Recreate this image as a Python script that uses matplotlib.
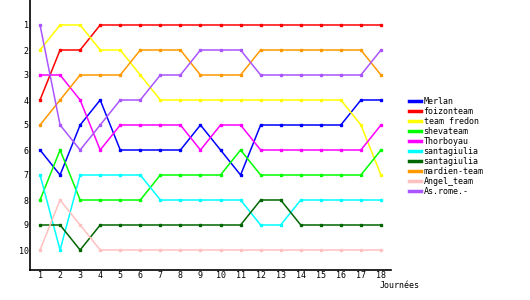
import matplotlib
matplotlib.use("Agg")
import matplotlib.pyplot as plt
from matplotlib.lines import Line2D

# classement par journée
journees = list(range(1, 19))
teams = ['Merlan', 'foizonteam', 'team fredon', 'shevateam', 'Thorboyau',
         'santagiulia', 'santagiulia', 'mardien-team', 'Angel_team', 'As.rome.-']
colors = ['#0000ff', '#ff0000', '#ffff00', '#00ff00', '#ff00ff',
          '#00ffff', '#006600', '#ff9900', '#ffc0c0', '#aa55ff']

merlan      = [6, 7, 5, 4, 6, 6, 6, 6, 5, 6, 7, 5, 5, 5, 5, 5, 4, 4]
foizonteam  = [4, 2, 2, 1, 1, 1, 1, 1, 1, 1, 1, 1, 1, 1, 1, 1, 1, 1]
team_fredon = [2, 1, 1, 2, 2, 3, 4, 4, 4, 4, 4, 4, 4, 4, 4, 4, 5, 7]
shevateam   = [8, 6, 8, 8, 8, 8, 7, 7, 7, 7, 6, 7, 7, 7, 7, 7, 7, 6]
thorboyau   = [3, 3, 4, 6, 5, 5, 5, 5, 6, 5, 5, 6, 6, 6, 6, 6, 6, 5]
santagiulia = [7, 10, 7, 7, 7, 7, 8, 8, 8, 8, 8, 9, 9, 8, 8, 8, 8, 8]
santagiulia2 = [9, 9, 10, 9, 9, 9, 9, 9, 9, 9, 9, 8, 8, 9, 9, 9, 9, 9]
mardien     = [5, 4, 3, 3, 3, 2, 2, 2, 3, 3, 3, 2, 2, 2, 2, 2, 2, 3]
angel       = [10, 8, 9, 10, 10, 10, 10, 10, 10, 10, 10, 10, 10, 10, 10, 10, 10, 10]
asrome      = [1, 5, 6, 5, 4, 4, 3, 3, 2, 2, 2, 3, 3, 3, 3, 3, 3, 2]

series = [merlan, foizonteam, team_fredon, shevateam, thorboyau,
          santagiulia, santagiulia2, mardien, angel, asrome]

W, H = 530, 300
fig = plt.figure(figsize=(W / 100, H / 100), dpi=100)
ax = fig.add_axes([30 / W, 30 / H, 361 / W, 270 / H])

for s, c in zip(series, colors):
    ax.plot(journees, s, color=c, lw=1.1, marker='s', ms=1.8, mec=c, mfc=c)

ax.set_xlim(0.5, 18.5)
ax.set_ylim(10.8, 0)
ax.set_xticks(journees)
ax.set_yticks(range(1, 11))
ax.tick_params(length=0, labelsize=6, pad=1)
for lab in ax.get_xticklabels() + ax.get_yticklabels():
    lab.set_family('DejaVu Sans Mono')
for sp in ['top', 'right']:
    ax.spines[sp].set_visible(False)
ax.spines['left'].set_linewidth(1.2)
ax.spines['bottom'].set_linewidth(1.2)

fig.text(400 / W, 1 - 285 / H, 'Journées', fontsize=6, family='DejaVu Sans Mono',
         ha='center', va='center')

handles = [Line2D([0], [0], color=c, lw=2.5) for c in colors]
fig.legend(handles, teams, loc='upper left', bbox_to_anchor=(409 / W, 1 - 97 / H),
           frameon=False, prop={'family': 'DejaVu Sans Mono', 'size': 6},
           handlelength=1.4, handletextpad=0.35, labelspacing=0.12, borderpad=0,
           borderaxespad=0)

fig.savefig('out.png', dpi=100)
